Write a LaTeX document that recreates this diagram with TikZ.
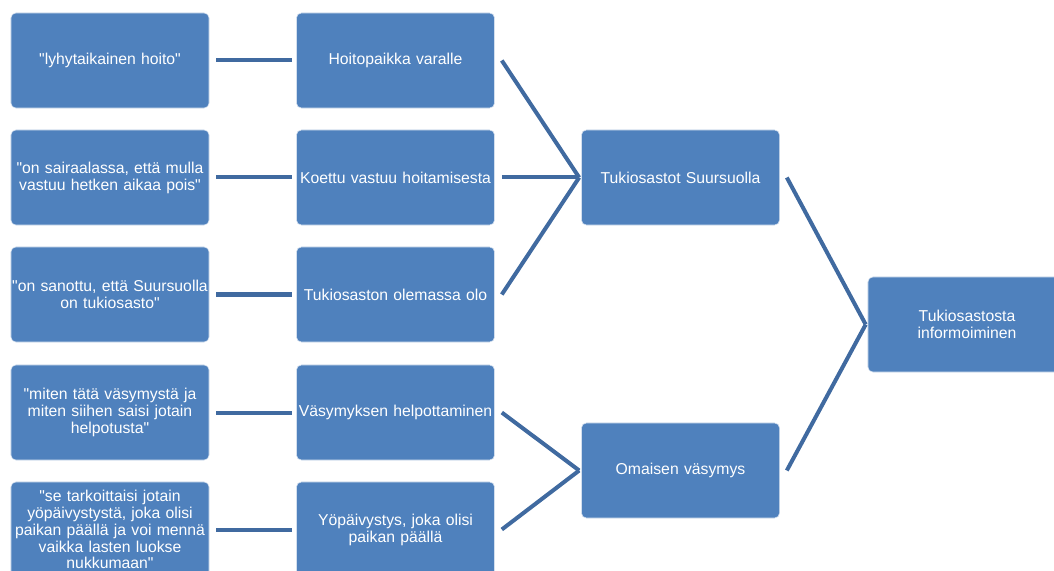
\documentclass[tikz,border=0pt]{standalone}
\usepackage{fontspec}
\setmainfont[Ligatures=TeXOff]{Liberation Sans}
\usepackage{xcolor}
\usetikzlibrary{positioning}

\definecolor{boxblue}{RGB}{79,129,189}
\definecolor{lineblue}{RGB}{64,106,160}

\begin{document}
\begin{tikzpicture}[x=0.025cm, y=-0.025cm,
  card/.style={draw=white!75!boxblue, line width=0.4pt, rounded corners=3.5pt,
               fill=boxblue, text=white, minimum width=4.95cm,
               minimum height=2.375cm, text width=4.9cm, inner sep=0pt,
               align=center, font=\fontsize{11.2}{12}\selectfont},
  link/.style={draw=lineblue, line width=0.1cm}]

  \useasboundingbox (0,0) rectangle (1054,571);

  % quotes
  \node[card] (q1) at (110, 60.5)  {"lyhytaikainen hoito"};
  \node[card] (q2) at (110, 177.5) {"on sairaalassa, että mulla\\
                                    vastuu hetken aikaa pois"};
  \node[card] (q3) at (110, 294.5) {"on sanottu, että Suursuolla\\
                                    on tukiosasto"};
  \node[card] (q4) at (110, 412.5) {"miten tätä väsymystä ja\\
                                    miten siihen saisi jotain\\
                                    helpotusta"};
  \node[card] (q5) at (110, 529.5) {"se tarkoittaisi jotain\\
                                    yöpäivystystä, joka olisi\\
                                    paikan päällä ja voi mennä\\
                                    vaikka lasten luokse\\
                                    nukkumaan"};

  % themes
  \node[card] (t1) at (395.5, 60.5)  {Hoitopaikka varalle};
  \node[card] (t2) at (395.5, 177.5) {Koettu vastuu hoitamisesta};
  \node[card] (t3) at (395.5, 294.5) {Tukiosaston olemassa olo};
  \node[card] (t4) at (395.5, 412.5) {Väsymyksen helpottaminen};
  \node[card] (t5) at (395.5, 529.5) {Yöpäivystys, joka olisi\\
                                      paikan päällä};

  % groups
  \node[card] (g1) at (680.5, 177.5) {Tukiosastot Suursuolla};
  \node[card] (g2) at (680.5, 470.5) {Omaisen väsymys};

  \node[card] (top) at (967, 324.5) {Tukiosastosta\\
                                     informoiminen};

  % connectors
  \foreach \i in {1,...,5}
    \draw[link] ([xshift=0.175cm]q\i.east) -- ([xshift=-0.1cm]t\i.west);

  \foreach \i in {1,2,3}
    \draw[link] ([xshift=0.175cm]t\i.east) -- ([xshift=-0.05cm]g1.west);
  \foreach \i in {4,5}
    \draw[link] ([xshift=0.175cm]t\i.east) -- ([xshift=-0.05cm]g2.west);

  \draw[link] ([xshift=0.175cm]g1.east) -- ([xshift=-0.05cm]top.west);
  \draw[link] ([xshift=0.175cm]g2.east) -- ([xshift=-0.05cm]top.west);
\end{tikzpicture}
\end{document}
